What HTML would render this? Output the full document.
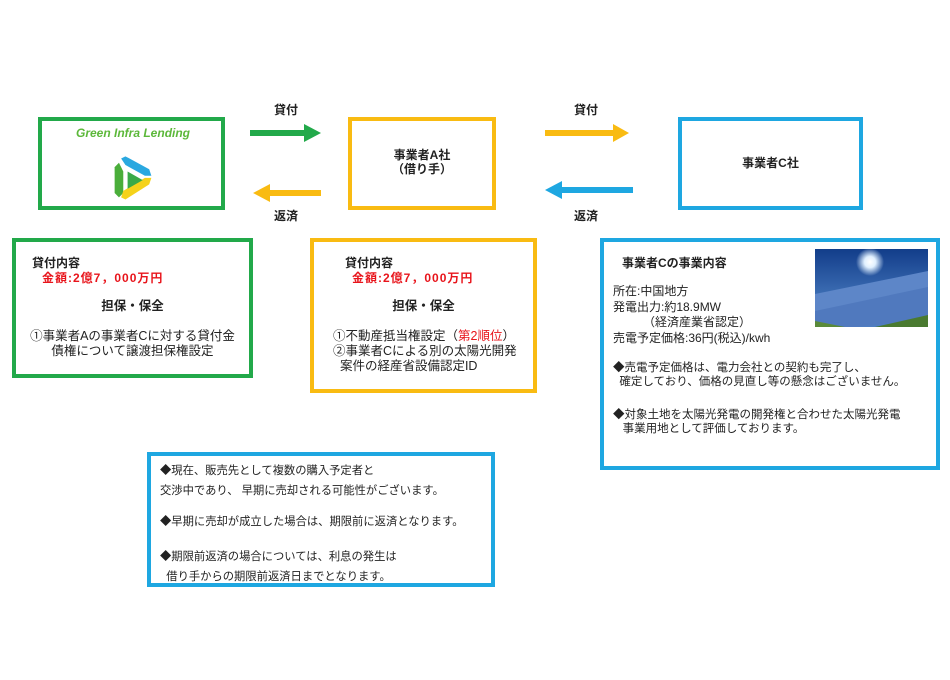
<!DOCTYPE html>
<html><head><meta charset="utf-8"><style>
body{margin:0;width:950px;height:680px;background:#fff;position:relative;overflow:hidden;font-family:"Liberation Sans","Noto Sans CJK JP",sans-serif;color:#222}
.b{position:absolute;box-sizing:border-box}
.t{position:absolute;white-space:nowrap;font-size:11px;line-height:14px}
.bold{font-weight:bold}
.red{color:#e8141b}
</style></head><body>
<div class="b" style="left:38px;top:117px;width:187px;height:93px;border:4px solid #22a94a"></div>
<div class="t" style="left:76px;top:126px;font-size:12px;font-style:italic;font-weight:bold;color:#5cb83a">Green Infra Lending</div>
<svg class="b" style="left:110px;top:152px" width="46" height="54" viewBox="0 0 42 50">
<path d="M8 10 L4 14 L4 38 L8 42 L12 38 L12 18 Z" fill="#4aae3a"/>
<path d="M10 6 L14 4 L36 16 L38 22 L32 22 L14 12 Z" fill="#2aa8e0"/>
<path d="M38 24 L36 30 L14 44 L10 42 L12 36 L32 24 Z" fill="#f5d21a"/>
<path d="M16 18 L30 26 L16 34 Z" fill="#3aaa48"/>
</svg>
<div class="b" style="left:348px;top:117px;width:148px;height:93px;border:4px solid #f9bb12"></div>
<div class="t bold" style="left:348px;width:148px;text-align:center;top:148px;font-size:12px">事業者A社<br>（借り手）</div>
<div class="b" style="left:678px;top:117px;width:185px;height:93px;border:4px solid #1ea7e1"></div>
<div class="t bold" style="left:678px;width:185px;text-align:center;top:156px;font-size:12px">事業者C社</div>

<svg class="b" style="left:0;top:0" width="950" height="240">
<rect x="250" y="130" width="56" height="6" fill="#22a94a"/><polygon points="304,124 321,133 304,142" fill="#22a94a"/>
<rect x="268" y="190" width="53" height="6" fill="#f9bb12"/><polygon points="270,184 253,193 270,202" fill="#f9bb12"/>
<rect x="545" y="130" width="70" height="6" fill="#f9bb12"/><polygon points="613,124 629,133 613,142" fill="#f9bb12"/>
<rect x="560" y="187" width="73" height="6" fill="#1ea7e1"/><polygon points="562,181 545,190 562,199" fill="#1ea7e1"/>
</svg>
<div class="t bold" style="left:274px;top:103px;font-size:12px">貸付</div>
<div class="t bold" style="left:274px;top:209px;font-size:12px">返済</div>
<div class="t bold" style="left:574px;top:103px;font-size:12px">貸付</div>
<div class="t bold" style="left:574px;top:209px;font-size:12px">返済</div>

<div class="b" style="left:12px;top:238px;width:241px;height:140px;border:4px solid #22a94a"></div>
<div class="t bold" style="left:32px;top:256px;font-size:12px">貸付内容</div>
<div class="t bold red" style="left:42px;top:271px;font-size:12px;letter-spacing:1px">金額:2億7，000万円</div>
<div class="t bold" style="left:12px;width:241px;text-align:center;top:299px;font-size:12.5px">担保・保全</div>
<div class="t" style="left:12px;width:241px;text-align:center;top:329px;font-size:12.5px;line-height:15px">①事業者Aの事業者Cに対する貸付金<br>債権について譲渡担保権設定</div>

<div class="b" style="left:310px;top:238px;width:227px;height:155px;border:4px solid #f9bb12"></div>
<div class="t bold" style="left:345px;top:256px;font-size:12px">貸付内容</div>
<div class="t bold red" style="left:352px;top:271px;font-size:12px;letter-spacing:1px">金額:2億7，000万円</div>
<div class="t bold" style="left:310px;width:227px;text-align:center;top:299px;font-size:12.5px">担保・保全</div>
<div class="t" style="left:333px;top:329px;font-size:12.5px;line-height:15px">①不動産抵当権設定（<span class="red">第2順位</span>）<br>②事業者Cによる別の太陽光開発<br>&nbsp;&nbsp;案件の経産省設備認定ID</div>

<div class="b" style="left:600px;top:238px;width:340px;height:232px;border:4px solid #1ea7e1"></div>
<div class="t bold" style="left:622px;top:256px;font-size:12px">事業者Cの事業内容</div>
<div class="t" style="left:613px;top:284px;font-size:12px;line-height:15.5px">所在:中国地方<br>発電出力:約18.9MW<br>&nbsp;&nbsp;&nbsp;&nbsp;&nbsp;&nbsp;&nbsp;&nbsp;&nbsp;（経済産業省認定）<br>売電予定価格:36円(税込)/kwh</div>
<div class="t" style="left:613px;top:361px;font-size:11.5px">◆売電予定価格は、電力会社との契約も完了し、<br>&nbsp;&nbsp;確定しており、価格の見直し等の懸念はございません。</div>
<div class="t" style="left:613px;top:408px;font-size:11.5px">◆対象土地を太陽光発電の開発権と合わせた太陽光発電<br>&nbsp;&nbsp;&nbsp;事業用地として評価しております。</div>
<svg class="b" style="left:815px;top:249px" width="113" height="78" viewBox="0 0 113 78">
<defs><linearGradient id="sky" x1="0" y1="0" x2="0" y2="1"><stop offset="0" stop-color="#123d8a"/><stop offset="1" stop-color="#5a8fd0"/></linearGradient>
<radialGradient id="sun" cx="0.5" cy="0.5" r="0.5"><stop offset="0" stop-color="#fff"/><stop offset="0.4" stop-color="#e0f0ff"/><stop offset="1" stop-color="#e0f0ff" stop-opacity="0"/></radialGradient></defs>
<rect width="113" height="78" fill="url(#sky)"/>
<circle cx="55" cy="13" r="14" fill="url(#sun)"/>
<polygon points="0,45 113,22 113,70 40,78 0,78" fill="#5d86c8"/>
<polygon points="0,62 113,38 113,78 0,78" fill="#4872b8" opacity="0.6"/>
<polygon points="0,72 30,78 0,78" fill="#5a8a3a"/>
<polygon points="60,78 113,66 113,78" fill="#4a7a30"/>
</svg>

<div class="b" style="left:147px;top:452px;width:348px;height:135px;border:4px solid #1ea7e1"></div>
<div class="t" style="left:160px;top:461px;line-height:20px;font-size:11.3px">◆現在、販売先として複数の購入予定者と<br>交渉中であり、 早期に売却される可能性がございます。</div>
<div class="t" style="left:160px;top:515px;font-size:11.3px">◆早期に売却が成立した場合は、期限前に返済となります。</div>
<div class="t" style="left:160px;top:547px;line-height:20px;font-size:11.3px">◆期限前返済の場合については、利息の発生は<br>&nbsp;&nbsp;借り手からの期限前返済日までとなります。</div>
</body></html>
